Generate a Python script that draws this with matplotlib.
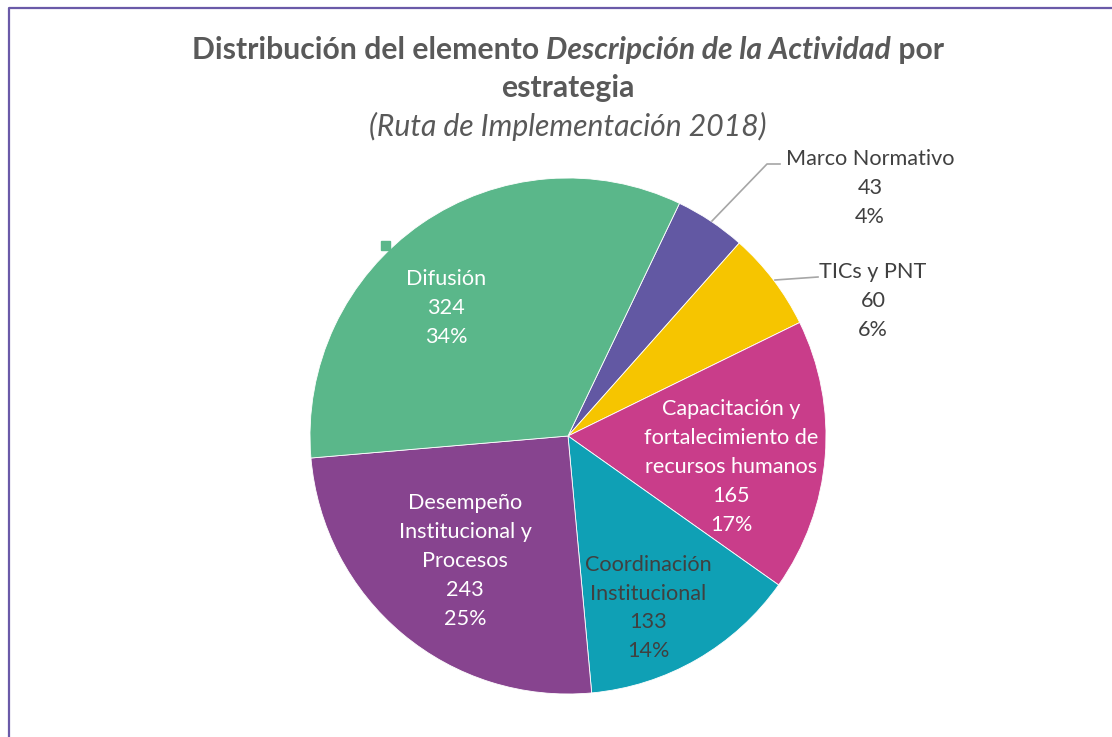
import matplotlib
matplotlib.use("Agg")
import matplotlib.pyplot as plt
from matplotlib.patches import Rectangle
import numpy as np

categories = ["Marco Normativo", "TICs y PNT", "Capacitación y\nfortalecimiento de\nrecursos humanos",
              "Coordinación\nInstitucional", "Desempeño\nInstitucional y\nProcesos", "Difusión"]
values = [43, 60, 165, 133, 243, 324]
percent_labels = ["4%", "6%", "17%", "14%", "25%", "34%"]
colors = ["#6258a3", "#f6c500", "#c93d8a", "#0fa0b5", "#87448f", "#5ab78a"]
text_colors = ["#404040", "#404040", "white", "#404040", "white", "white"]

W, H = 1112, 737
FONT = "Lato"
plt.rcParams['font.family'] = [FONT, 'DejaVu Sans']

fig = plt.figure(figsize=(W / 100, H / 100), dpi=100)
ax = fig.add_axes([0, 0, 1, 1])
ax.set_xlim(0, W)
ax.set_ylim(0, H)
ax.axis("off")

def Y(y):
    return H - y

# frame
ax.plot([9, 9, W + 5], [Y(H + 5), Y(7.5), Y(7.5)], color="#6a5aa8", lw=1.6, solid_capstyle="butt")

cx, cy, R = 568, 436, 258
wedges, _ = ax.pie(values, colors=colors, startangle=64.4, counterclock=False,
                   center=(cx, Y(cy)), radius=R, frame=True,
                   wedgeprops=dict(linewidth=0.6, edgecolor="white"))
ax.set_xlim(0, W)
ax.set_ylim(0, H)
ax.set_aspect("equal")
ax.axis("off")

# label positions (pixel coords of text block center)
label_pos = [(870, 188), (873, 301), (731, 467), (648, 608), (465, 561), (446, 308)]
fs = 15.6
for cat, v, p, (lx, ly), tc in zip(categories, values, percent_labels, label_pos, text_colors):
    ax.text(lx, Y(ly), f"{cat}\n{v}\n{p}", ha="center", va="center", color=tc,
            fontsize=fs, linespacing=1.56)

# leader lines
ax.plot([712, 767, 780], [Y(221), Y(164), Y(164)], color="#a6a6a6", lw=1.2)
ax.plot([775, 818], [Y(280), Y(277)], color="#a6a6a6", lw=1.2)

# small selection marker
ax.add_patch(Rectangle((381, Y(250)), 9, 9, color="#5ab78a"))

# title
tcol = "#595959"
tfs = 21.7
renderer = fig.canvas.get_renderer()
parts = [("Distribución del elemento ", "normal"), ("Descripción de la Actividad", "italic"), (" por", "normal")]
texts = []
for s, st in parts:
    t = ax.text(0, Y(50), s, fontsize=tfs, fontweight="bold", style=st, color=tcol, ha="left", va="center")
    texts.append(t)
widths = [t.get_window_extent(renderer).width for t in texts]
total = sum(widths)
x0 = cx - total / 2
for t, w in zip(texts, widths):
    t.set_x(x0)
    x0 += w
ax.text(cx, Y(88), "estrategia", fontsize=tfs, fontweight="bold", color=tcol, ha="center", va="center")
ax.text(cx, Y(126), "(Ruta de Implementación 2018)", fontsize=21.7, style="italic", color=tcol,
        ha="center", va="center")

fig.savefig("out.png", dpi=100)
